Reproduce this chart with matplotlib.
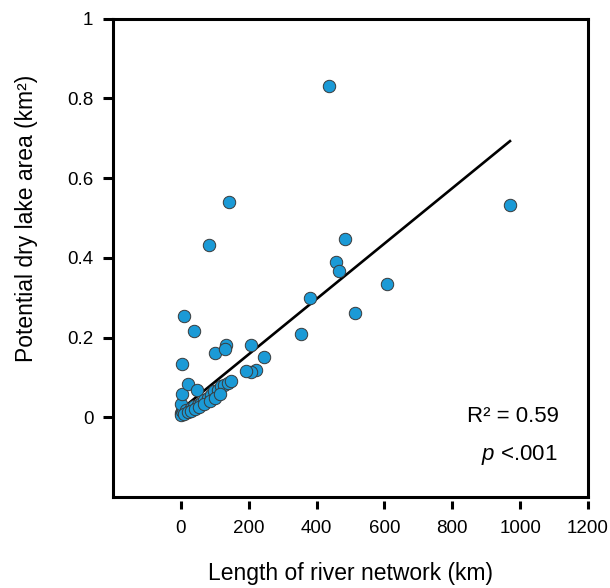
import matplotlib
matplotlib.use("Agg")
import matplotlib.pyplot as plt

plt.rcParams["font.family"] = ["Liberation Sans", "DejaVu Sans"]
plt.rcParams["mathtext.fontset"] = "custom"
plt.rcParams["mathtext.it"] = "Liberation Sans:italic"
plt.rcParams["mathtext.rm"] = "Liberation Sans"

# scattered lakes (length of river network km, dry lake area km2)
river_len = [436, 141, 83, 485, 456, 466, 608, 380, 512, 353, 971,
             10, 39, 5, 101, 132, 130, 206, 244, 221, 206, 191,
             0, 2, 4, 7, 0, 5, 20, 49,
             15, 29, 38, 50, 59, 68, 79, 88, 97, 109, 118, 126, 138, 147,
             10, 20, 30, 42, 55, 70, 85, 100, 115]
lake_area = [0.831, 0.541, 0.431, 0.448, 0.389, 0.368, 0.335, 0.298, 0.262, 0.21, 0.533,
             0.254, 0.217, 0.133, 0.16, 0.18, 0.171, 0.18, 0.15, 0.118, 0.113, 0.115,
             0.01, 0.005, 0.015, 0.02, 0.033, 0.058, 0.083, 0.068,
             0.018, 0.023, 0.028, 0.031, 0.035, 0.043, 0.048, 0.056, 0.065, 0.068, 0.078, 0.081, 0.085, 0.091,
             0.008, 0.012, 0.015, 0.02, 0.025, 0.033, 0.04, 0.048, 0.057]

# linear fit end points
fit_x = [2, 970]
fit_y = [0.02, 0.693]

x_ticks = [0, 200, 400, 600, 800, 1000, 1200]
y_ticks = [0, 0.2, 0.4, 0.6, 0.8, 1]
y_tick_labels = ["0", "0.2", "0.4", "0.6", "0.8", "1"]

fig = plt.figure(figsize=(6.1, 5.88), dpi=100)
ax = fig.add_axes([0.185, 0.155, 0.779, 0.813])

ax.plot(fit_x, fit_y, color="black", lw=1.9, zorder=3)
ax.scatter(river_len, lake_area, s=80, color="#1b9ad6", edgecolor="#3a3a3a",
           linewidth=0.7, zorder=4)

ax.set_xlim(-200, 1200)
ax.set_ylim(-0.2, 1.0)
ax.set_xticks(x_ticks)
ax.set_yticks(y_ticks)
ax.set_yticklabels(y_tick_labels)

for side in ["left", "right", "top"]:
    ax.spines[side].set_linewidth(2.2)
# detached x ticks: hide real bottom spine, draw frame line instead
ax.spines["bottom"].set_position(("outward", 3))
ax.spines["bottom"].set_visible(False)
ax.plot([0, 1], [0, 0], transform=ax.transAxes, color="black", lw=2.2,
        clip_on=False, solid_capstyle="projecting", zorder=5)

ax.tick_params(axis="both", direction="out", width=2.2, labelsize=13.5)
ax.tick_params(axis="y", length=7, pad=7)
ax.tick_params(axis="x", length=6, pad=8)

ax.set_xlabel("Length of river network (km)", fontsize=16.5, labelpad=18)
ax.set_ylabel("Potential dry lake area (km²)", fontsize=16.5)
ax.yaxis.set_label_coords(-0.157, 0.583)

ax.text(0.939, 0.169, "R² = 0.59", transform=ax.transAxes, ha="right",
        va="center", fontsize=16)
ax.text(0.935, 0.088, r"$\it{p}$" + " <.001", transform=ax.transAxes, ha="right",
        va="center", fontsize=16)

fig.savefig("out.png", dpi=100)
